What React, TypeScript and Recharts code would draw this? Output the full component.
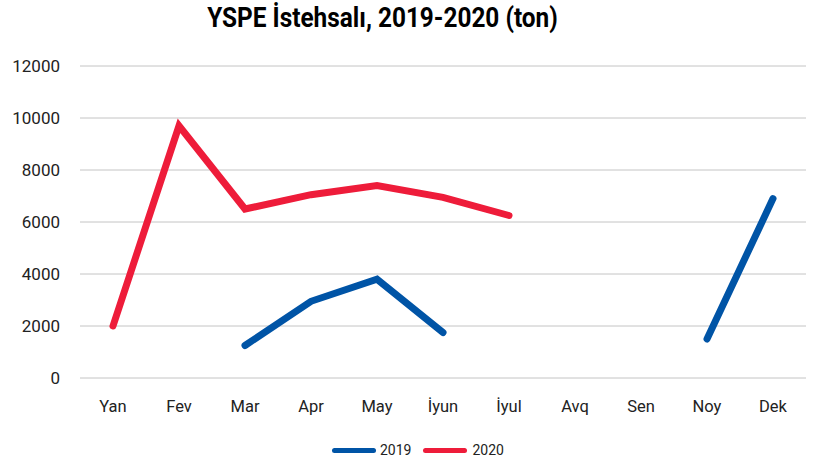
import React from "react";
import { LineChart, Line, XAxis, YAxis, CartesianGrid } from "recharts";

const months = ["Yan", "Fev", "Mar", "Apr", "May", "İyun", "İyul", "Avq", "Sen", "Noy", "Dek"];
const values2019 = [null, null, 1250, 2950, 3800, 1750, null, null, null, 1500, 6900];
const values2020 = [2000, 9700, 6500, 7050, 7400, 6950, 6250, null, null, null, null];
const yTicks = [0, 2000, 4000, 6000, 8000, 10000, 12000];

const BLUE = "#0054A6";
const RED = "#EE1C3A";

const data = months.map((m, i) => ({
  month: m,
  y2019: values2019[i],
  y2020: values2020[i],
}));

const font = "Roboto, sans-serif";

export default function App() {
  return (
    <div style={{ position: "absolute", left: 0, top: 0, width: 813, height: 461, background: "#fff", fontFamily: font }}>
      <div
        style={{
          position: "absolute",
          top: 1,
          left: 0,
          width: 765,
          textAlign: "center",
          fontSize: 28,
          lineHeight: "34px",
          fontWeight: "bold",
          color: "#000",
          transform: "scaleX(0.87)",
          transformOrigin: "382.5px 0",
        }}
      >
        YSPE İstehsalı, 2019-2020 (ton)
      </div>
      <LineChart width={813} height={461} data={data} margin={{ top: 66, right: 7, left: 0, bottom: 53 }}>
        <CartesianGrid vertical={false} stroke="#c4c4c4" strokeWidth={1} />
        <XAxis
          dataKey="month"
          axisLine={false}
          tickLine={false}
          padding={{ left: 33, right: 33 }}
          tickMargin={16}
          tick={{ fill: "#222", fontSize: 16.5, fontFamily: font }}
          interval={0}
        />
        <YAxis
          width={80}
          domain={[0, 12000]}
          ticks={yTicks}
          axisLine={false}
          tickLine={false}
          tickMargin={14}
          tick={{ fill: "#222", fontSize: 17, fontFamily: font }}
        />
        <Line
          dataKey="y2019"
          stroke={BLUE}
          strokeWidth={7}
          strokeLinecap="round"
          strokeLinejoin="miter"
          dot={false}
          activeDot={false}
          isAnimationActive={false}
        />
        <Line
          dataKey="y2020"
          stroke={RED}
          strokeWidth={7}
          strokeLinecap="round"
          strokeLinejoin="miter"
          dot={false}
          activeDot={false}
          isAnimationActive={false}
        />
      </LineChart>
      <div
        style={{
          position: "absolute",
          top: 441,
          left: 332,
          display: "flex",
          alignItems: "center",
          fontSize: 14,
          color: "#222",
          lineHeight: "18px",
        }}
      >
        <span style={{ display: "inline-block", width: 44, height: 5, borderRadius: 3, background: BLUE, marginRight: 4 }} />
        <span style={{ marginRight: 12 }}>2019</span>
        <span style={{ display: "inline-block", width: 44, height: 5, borderRadius: 3, background: RED, marginRight: 5 }} />
        <span>2020</span>
      </div>
    </div>
  );
}
